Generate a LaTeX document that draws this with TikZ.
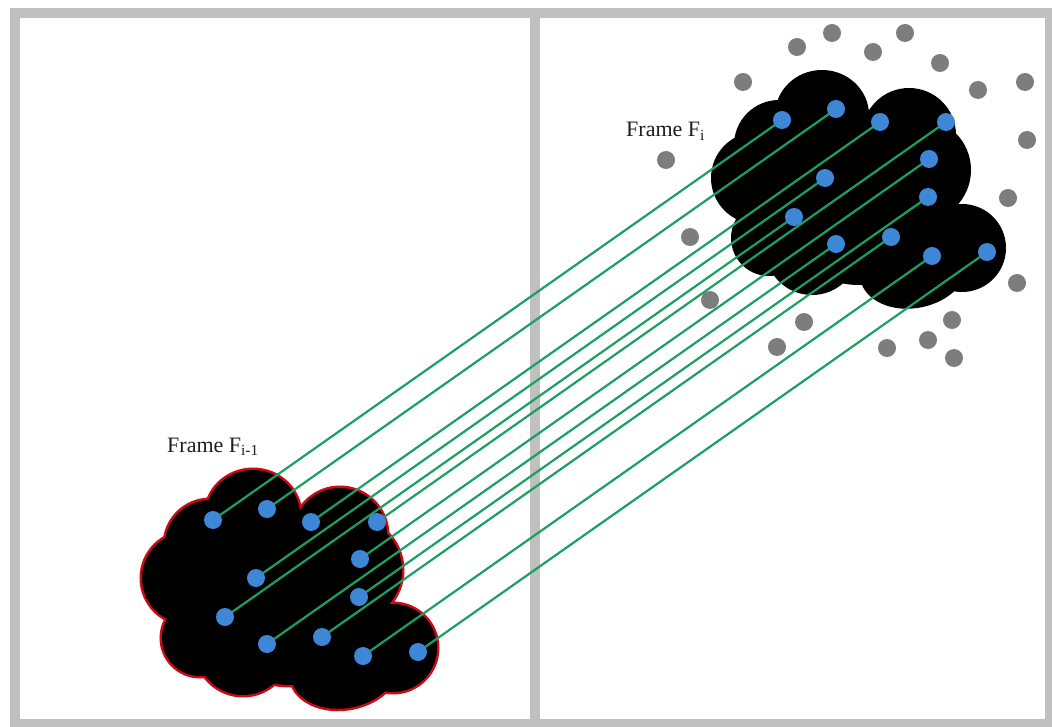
\documentclass[tikz,border=0pt]{standalone}
\usepackage{fontspec}
\setmainfont{Liberation Serif}
\usetikzlibrary{calc,backgrounds}
\definecolor{framegray}{RGB}{192,192,192}
\definecolor{dotgray}{RGB}{125,125,125}
\definecolor{dotblue}{RGB}{62,134,214}
\definecolor{linkgreen}{RGB}{28,160,98}
\definecolor{cloudred}{RGB}{205,10,20}
\definecolor{labeltext}{RGB}{30,30,30}
% cloud = union of lobes; #1 = path options
\newcommand{\cloudlobes}[1]{%
  \path[#1] (253,515) ellipse [x radius=47, y radius=45]
            (340,535) circle [radius=47]
            (350,570) circle [radius=52]
            (243,648) circle [radius=47]
            (200,638) circle [radius=38]
            (188,578) circle [radius=46]
            (210,545) circle [radius=45]
            (393,648) circle [radius=44]
            (290,597) circle [radius=88];
  \path[#1,shift={(345,668)},rotate=12] (0,0) ellipse [x radius=55, y radius=40];}
\begin{document}
\begin{tikzpicture}[x=1pt,y=-1pt,
  bluedot/.style={circle,fill=dotblue,inner sep=0pt,minimum size=18pt},
  graydot/.style={circle,fill=dotgray,inner sep=0pt,minimum size=18pt},
  link/.style={draw=linkgreen,line width=2.2pt},
  framelabel/.style={text=labeltext,font=\fontsize{22}{24}\selectfont,anchor=base west,inner sep=0pt}]
\useasboundingbox (0,0) rectangle (1052,727);
% gray outlier dots
\foreach \x/\y [count=\k] in {797/47,832/33,873/52,905/33,940/63,743/82,978/90,1025/82,
  666/160,1027/140,1008/198,690/237,1017/283,710/300,804/322,952/320,777/347,887/348,928/340,954/358}
  \node[graydot] (g\k) at (\x,\y) {};
% blue feature points
\foreach \x/\y [count=\k] in {213/520,267/509,311/522,377/522,360/559,256/578,225/617,359/597,322/637,267/644,363/656,418/652}
  {\node[bluedot] (l\k) at (\x,\y) {};
   \node[bluedot] (r\k) at ($(\x,\y)+(569,-400)$) {};}
\begin{scope}[on background layer]
  % panel frame
  \draw[framegray,line width=9.5pt] (15,13) rectangle (1050,724);
  \draw[framegray,line width=9.5pt] (535,13) -- (535,724);
  % cloud of frame F_{i-1}: red rim, then black body
  \cloudlobes{draw=cloudred,line width=5pt}
  \cloudlobes{fill=black}
  % cloud of frame F_i
  \begin{scope}[shift={(569,-400)}]
    \cloudlobes{fill=black}
  \end{scope}
  % correspondences
  \foreach \k in {1,...,12}
    \draw[link] (l\k.center) -- (r\k.center);
\end{scope}
% labels
\node[framelabel] (labA) at (167,452) {Frame F\textsubscript{i-1}};
\node[framelabel] (labB) at (626,137) {Frame F\textsubscript{i}};
\end{tikzpicture}
\end{document}
